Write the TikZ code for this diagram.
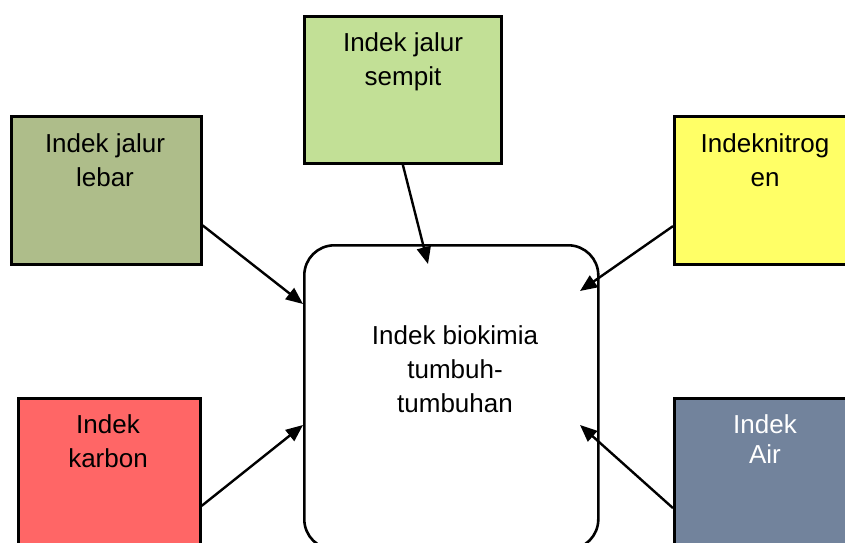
\documentclass[tikz,border=0pt]{standalone}
\usepackage{fontspec}
\setmainfont{Liberation Sans}
\usepackage{xcolor}
\usepackage{tikz}
\usetikzlibrary{arrows.meta, positioning}

\definecolor{hijau}{RGB}{194,224,150}
\definecolor{zaitun}{RGB}{174,189,138}
\definecolor{kuning}{RGB}{255,255,102}
\definecolor{merah}{RGB}{255,102,102}
\definecolor{abu}{RGB}{114,131,156}

\begin{document}
\begin{tikzpicture}[x=1pt, y=-1pt,
  box/.style={draw, line width=2.6pt, anchor=north west, minimum width=184pt, minimum height=148pt, inner sep=0pt},
  txt/.style={anchor=base, align=center, inner sep=0pt, font=\fontsize{26}{34}\selectfont},
  panah/.style={line width=2.4pt, -{Triangle[length=17pt, width=14pt]}}]
  \useasboundingbox (0,0) rectangle (845,542);
  \clip (0,0) rectangle (845,542);

  \node[box, fill=hijau, minimum width=197pt, minimum height=147pt] (sempit) at (303,15) {};
  \node[box, fill=zaitun, minimum width=190pt] (lebar) at (10,115) {};
  \node[box, fill=kuning] (nitro) at (673,115) {};
  \node[box, fill=merah, minimum width=182pt] (karbon) at (17,397) {};
  \node[box, fill=abu] (air) at (673,397) {};
  \node[box, rounded corners=30pt, minimum width=294pt, minimum height=304pt] (tumbuhan) at (303,244) {};

  \node[txt] (sempit-t) at (403,85) {Indek jalur\\sempit};
  \node[txt] (lebar-t) at (105,186) {Indek jalur\\lebar};
  \node[txt] (nitro-t) at (765,186) {Indeknitrog\\en};
  \node[txt] (karbon-t) at (108,467) {Indek\\karbon};
  \node[txt, white, font=\fontsize{26}{30}\selectfont] (air-t) at (765,463) {Indek\\Air};
  \node[txt] (tumbuhan-t) at (455,412) {Indek biokimia\\tumbuh-\\tumbuhan};

  \coordinate (ujung-sempit) at (428,264);
  \coordinate (ujung-lebar) at (303,304);
  \coordinate (ujung-nitro) at (580,291);
  \coordinate (ujung-karbon) at (303,425);
  \coordinate (ujung-air) at (580,425);

  \draw[panah] (sempit.south) -- (ujung-sempit);
  \draw[panah] (lebar.-20) -- (ujung-lebar);
  \draw[panah] (nitro.201) -- (ujung-nitro);
  \draw[panah] (karbon.-20) -- (ujung-karbon);
  \draw[panah] (air.201) -- (ujung-air);
\end{tikzpicture}
\end{document}
